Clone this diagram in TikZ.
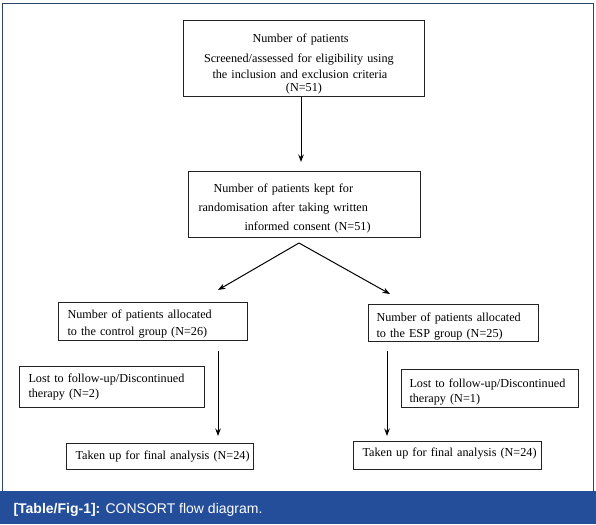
\documentclass[tikz,border=0pt]{standalone}
\usepackage{fontspec}
\setmainfont{Liberation Serif}
\newfontfamily\capfont{Liberation Sans}
\usetikzlibrary{arrows.meta,calc}
\definecolor{bandblue}{RGB}{36,78,154}
\definecolor{framecol}{RGB}{44,68,100}
\definecolor{boxcol}{RGB}{35,35,35}
\newcommand{\fl}[2]{\makebox[#1][s]{#2}}
\tikzset{
  box/.style={draw=boxcol, line width=1pt, anchor=north west, inner xsep=0pt, inner ysep=0pt,
    font=\fontsize{12.2}{15}\selectfont, text=black, align=left},
  arr/.style={line width=1pt, -{Stealth[length=7.5pt,width=5.5pt]}},
}
\begin{document}
\begin{tikzpicture}[x=1pt,y=-1pt]
\useasboundingbox (0,0) rectangle (596,524);
\fill[white] (0,0) rectangle (596,524);
\draw[framecol, line width=1.3pt] (2.7,491) -- (2.7,3.3) -- (593.3,3.3) -- (593.3,491);
\fill[bandblue] (0,490.5) rectangle (596,524);
\node[anchor=base west, text=white, font=\capfont\fontsize{14}{16}\selectfont] (cap) at (10,513)
  {\textbf{[Table/Fig-1]:} CONSORT flow diagram.};

% box 1
\node[box, minimum width=241pt, minimum height=76pt, text width=241pt, align=center] (b1) at (183,20)
  {\rule{0pt}{20pt}\fl{103pt}{Number of patients}\\[5pt]
   \fl{200pt}{Screened/assessed for eligibility using}\\[1pt]
   \fl{183pt}{the inclusion and exclusion criteria}\\[-2pt]
   (N=51)};
% box 2
\node[box, minimum width=232pt, minimum height=66pt, text width=212pt] (b2) at (188,171)
  {\rule{0pt}{16pt}\hspace*{15pt}\fl{149pt}{Number of patients kept for}\\[4pt]
   \fl{185pt}{randomisation after taking written}\\[4pt]
   \hspace*{46pt}\fl{134pt}{informed consent (N=51)}};
% box 3 control
\node[box, minimum width=189pt, minimum height=38pt, text width=171pt] (b3) at (58,302)
  {\rule{0pt}{14pt}\fl{162pt}{Number of patients allocated}\\[2pt]
   \fl{154pt}{to the control group (N=26)}};
% box 4 ESP
\node[box, minimum width=170pt, minimum height=37pt, text width=154pt] (b4) at (368,304)
  {\rule{0pt}{16pt}\fl{153pt}{Number of patients allocated}\\[1pt]
   \fl{131pt}{to the ESP group (N=25)}};
% lost left
\node[box, minimum width=185pt, minimum height=41pt, text width=167pt] (l1) at (19,366)
  {\fl{158pt}{Lost to follow-up/Discontinued}\\
   \fl{76pt}{therapy (N=2)}};
% lost right
\node[box, minimum width=177pt, minimum height=38pt, text width=161pt] (l2) at (401,369)
  {\rule{0pt}{15pt}\fl{158pt}{Lost to follow-up/Discontinued}\\
   \fl{70pt}{therapy (N=1)}};
% final left
\node[box, minimum width=187pt, minimum height=26pt, text width=169pt] (f1) at (66,443)
  {\fl{173pt}{Taken up for final analysis (N=24)}};
% final right
\node[box, minimum width=188pt, minimum height=28pt, text width=170pt] (f2) at (353,441)
  {\rule[-7pt]{0pt}{7pt}\fl{172pt}{Taken up for final analysis (N=24)}};

% connectors
\coordinate (a1e) at (301,162);
\draw[arr] (b1.south -| a1e) -- (a1e);
\coordinate (apex) at (299,243);
\coordinate (forkL) at (218,290);
\coordinate (forkR) at (390,294);
\draw[arr] (apex) -- (forkL);
\draw[arr] (apex) -- (forkR);
\coordinate (vLs) at (218,351);
\coordinate (vLe) at (218,436);
\coordinate (vRs) at (387,351);
\coordinate (vRe) at (387,436);
\draw[arr] (vLs) -- (vLe);
\draw[arr] (vRs) -- (vRe);
\end{tikzpicture}
\end{document}
